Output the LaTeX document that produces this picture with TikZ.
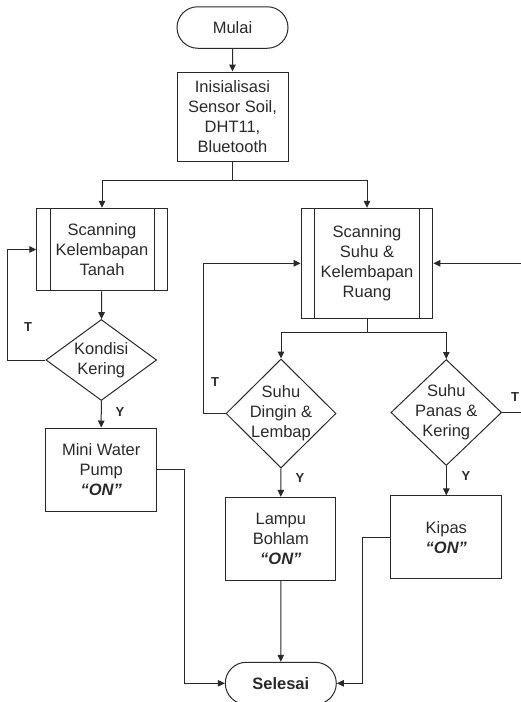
\documentclass[tikz,border=0pt]{standalone}
\usepackage{fontspec}
\setmainfont{Liberation Sans}
\usetikzlibrary{arrows.meta,shapes.geometric,shapes.misc}
\definecolor{ink}{HTML}{2A2A2A}
\tikzset{
  base/.style={draw=ink, line width=1pt, text=ink, align=center, inner sep=0pt,
    font=\fontsize{16.5}{20}\selectfont},
  term/.style={base, rounded rectangle, minimum width=111pt, minimum height=41.5pt},
  proc/.style={base, rectangle, minimum width=111pt, minimum height=83pt},
  subproc/.style={base, rectangle},
  dec/.style={base, diamond},
  dectext/.style={text=ink, align=center, font=\fontsize{16.5}{20}\selectfont},
  arr/.style={draw=ink, line width=1pt, -{Triangle[length=7pt,width=6.5pt]}},
  ln/.style={draw=ink, line width=1pt},
  lbl/.style={text=ink, font=\fontsize{13}{15}\selectfont\bfseries, inner sep=0pt}
}
\newcommand{\onlbl}{\textbf{\textit{“ON”}}}
\begin{document}
\begin{tikzpicture}[x=1pt,y=-1pt]
\useasboundingbox (0,0) rectangle (521,702);
\fill[white] (0,0) rectangle (521,702);
\clip (0,0) rectangle (521,702);

% nodes
\node[term] (mulai) at (232.5,27.5) {Mulai};
\node[proc, minimum height=89pt] (init) at (232.5,116.5) {Inisialisasi\\Sensor Soil,\\DHT11,\\Bluetooth};
\node[subproc, minimum width=130.5pt, minimum height=82.5pt] (scanA) at (102,249.5) {Scanning\\Kelembapan\\Tanah};
\node[dec, minimum width=110.7pt, minimum height=81pt,
  label={[dectext]center:Kondisi\\Kering}] (kond) at (101.3,360) {};
\node[proc, minimum width=111pt, minimum height=83pt] (pump) at (101.2,469.5) {Mini Water\\Pump\\\onlbl};

\node[subproc, minimum width=131.7pt, minimum height=110pt] (scanB) at (367,263.3) {Scanning\\Suhu \&\\Kelembapan\\Ruang};
\node[dec, minimum width=110pt, minimum height=109pt,
  label={[dectext]center:Suhu\\Dingin \&\\Lembap}] (dingin) at (281,413.5) {};
\node[dec, minimum width=110.7pt, minimum height=106pt,
  label={[dectext]center:Suhu\\Panas \&\\Kering}] (panas) at (446.3,412.5) {};
\node[proc, minimum width=110.3pt, minimum height=82.7pt] (lampu) at (280.8,538.7) {Lampu\\Bohlam\\\onlbl};
\node[proc, minimum width=110.7pt, minimum height=82.7pt] (kipas) at (446.3,537.3) {Kipas\\\onlbl};
\node[term, minimum width=111pt, minimum height=42pt] (selesai) at (280.8,683.3) {\textbf{Selesai}};

% predefined-process inner bars
\draw[ln] ([xshift=14pt]scanA.north west) -- ([xshift=14pt]scanA.south west);
\draw[ln] ([xshift=-13.5pt]scanA.north east) -- ([xshift=-13.5pt]scanA.south east);
\draw[ln] ([xshift=14pt]scanB.north west) -- ([xshift=14pt]scanB.south west);
\draw[ln] ([xshift=-14pt]scanB.north east) -- ([xshift=-14pt]scanB.south east);

% connectors
\draw[arr] (mulai) -- (init);
\coordinate (j1) at ([yshift=-19pt]init.south);
\draw[ln] (init.south) -- (j1);
\draw[arr] (j1) -| (scanA.north);
\draw[arr] (j1) -| (scanB.north);
\draw[arr] (scanA) -- (kond);
\draw[arr] (kond.west) -- ++(-37.7,0) |- (scanA.west);
\draw[arr] (kond.south) -- (pump.north);
\coordinate (j2) at ([yshift=-14pt]scanB.south);
\draw[ln] (scanB.south) -- (j2);
\draw[arr] (j2) -| (dingin.north);
\draw[arr] (j2) -| (panas.north);
\draw[arr] (dingin.west) -- ++(-21.7,0) |- (scanB.west);
\draw[arr] (panas.east) -- ++(40,0) |- (scanB.east);
\draw[arr] (dingin.south) -- (lampu.north);
\draw[arr] (panas.south) -- (kipas.north);
\draw[arr] (lampu) -- (selesai);
\draw[arr] (pump.east) -- ++(27,0) |- (selesai.west);
\draw[arr] (kipas.west) -- ++(-27.7,0) |- (selesai.east);

% labels
\node[lbl] (t1) at (28,327) {T};
\node[lbl] (t2) at (215,382) {T};
\node[lbl] (t3) at (515,397) {T};
\node[lbl] (y1) at (120,412) {Y};
\node[lbl] (y2) at (300,478) {Y};
\node[lbl] (y3) at (466,476) {Y};
\end{tikzpicture}
\end{document}
